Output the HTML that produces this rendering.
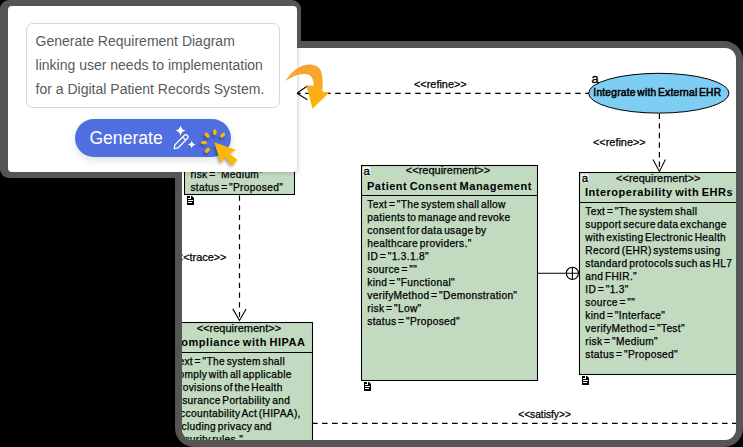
<!DOCTYPE html>
<html><head><meta charset="utf-8">
<style>
html,body{margin:0;padding:0;}
body{width:743px;height:447px;background:#000;position:relative;overflow:hidden;font-family:"Liberation Sans",sans-serif;}
.abs{position:absolute;}
#pshadow{left:0;top:0;width:300.5px;height:177.5px;background:#555;border-radius:9px;}
#panel{left:175px;top:41px;width:568px;height:406px;background:#555;border-radius:19px;}
#inner{left:182px;top:48px;width:554px;height:392px;background:#fff;border-radius:11px;overflow:hidden;}
#dwrap{left:-182px;top:-48px;width:743px;height:447px;}
#popup{left:8px;top:6px;width:289px;height:166px;background:#fff;border-radius:4px;}
#pshad2{left:8px;top:6px;width:289px;height:166px;border-radius:4px;box-shadow:1px 1px 4px rgba(0,0,0,0.18);}
#ta{left:25.9px;top:23px;width:254.4px;height:85.2px;border:1px solid #d6d6d6;border-radius:7px;box-sizing:border-box;}
#tatext{left:35.6px;top:28.7px;font-size:14px;line-height:24px;color:#5a5a5a;white-space:pre;}
#btn{left:75px;top:119px;width:156px;height:38px;background:#4f6fe0;border-radius:19px;box-shadow:0 3px 9px rgba(0,0,0,0.13);}
#btntext{left:89.4px;top:122px;font-size:17.6px;line-height:33px;color:#fff;white-space:pre;}
.dt{position:absolute;white-space:pre;color:#000;-webkit-text-stroke:0.25px #000;}
</style></head><body>
<div id="pshadow" class="abs"></div>
<div id="panel" class="abs"></div>
<div id="inner" class="abs"><div id="dwrap" class="abs">
<svg class="abs" style="left:0;top:0" width="743" height="447" viewBox="0 0 743 447"><rect x="184.50" y="30.50" width="110.00" height="164.00" fill="#c1dac0" stroke="#000" stroke-width="1.05"/><rect x="361.50" y="165.50" width="176.00" height="215.00" fill="#c1dac0" stroke="#000" stroke-width="1.05"/><line x1="361" y1="195.5" x2="538" y2="195.5" stroke="#000" stroke-width="1.05"/><rect x="579.50" y="172.50" width="180.00" height="202.00" fill="#c1dac0" stroke="#000" stroke-width="1.05"/><line x1="579" y1="202.5" x2="760" y2="202.5" stroke="#000" stroke-width="1.05"/><rect x="165.50" y="322.50" width="147.00" height="147.00" fill="#c1dac0" stroke="#000" stroke-width="1.05"/><line x1="165" y1="352.5" x2="313" y2="352.5" stroke="#000" stroke-width="1.05"/><path d="M187,196 h3 v3 h4 v6 h-7 z" fill="#000"/><path d="M191,196 h1 l2,2 v1 h-3 z" fill="#000"/><rect x="188" y="198" width="2" height="1" fill="#fff"/><rect x="188" y="200" width="5" height="1" fill="#fff"/><rect x="188" y="202" width="4" height="1" fill="#fff"/><rect x="363.1" y="167.1" width="7.3" height="8.7" rx="1" fill="#fff" opacity="0.9"/><path d="M364,382 h3 v3 h4 v6 h-7 z" fill="#000"/><path d="M368,382 h1 l2,2 v1 h-3 z" fill="#000"/><rect x="365" y="384" width="2" height="1" fill="#fff"/><rect x="365" y="386" width="5" height="1" fill="#fff"/><rect x="365" y="388" width="4" height="1" fill="#fff"/><rect x="581.3" y="174.3" width="7.2" height="8.5" rx="1" fill="#fff" opacity="0.9"/><path d="M582,376 h3 v3 h4 v6 h-7 z" fill="#000"/><path d="M586,376 h1 l2,2 v1 h-3 z" fill="#000"/><rect x="583" y="378" width="2" height="1" fill="#fff"/><rect x="583" y="380" width="5" height="1" fill="#fff"/><rect x="583" y="382" width="4" height="1" fill="#fff"/><line x1="239.5" y1="195.5" x2="239.5" y2="320" stroke="#000" stroke-width="1.2" fill="none" stroke-dasharray="5.2 4.5"/><polyline points="232.8,308.9 239.5,320.5 246.1,308.9" stroke="#000" stroke-width="1.1" fill="none"/><line x1="295.2" y1="93.4" x2="592" y2="93.4" stroke="#000" stroke-width="1.2" fill="none" stroke-dasharray="5.5 4.5"/><polyline points="307.4,86 296.8,93.3 307.4,99.7" stroke="#000" stroke-width="1.1" fill="none"/><line x1="659.4" y1="113.6" x2="659.4" y2="171" stroke="#000" stroke-width="1.2" fill="none" stroke-dasharray="5.4 4.2"/><polyline points="653,159.5 659.4,171.4 665.4,159.5" stroke="#000" stroke-width="1.1" fill="none"/><ellipse cx="658.8" cy="93.2" rx="70.2" ry="19.9" fill="#7ecdf3" stroke="#000" stroke-width="1"/><line x1="538" y1="273.3" x2="566.3" y2="273.3" stroke="#000" stroke-width="1.1"/><circle cx="572.4" cy="273.3" r="6.1" fill="none" stroke="#000" stroke-width="1.1"/><line x1="566.3" y1="273.3" x2="578.5" y2="273.3" stroke="#000" stroke-width="1.1"/><line x1="572.4" y1="267.2" x2="572.4" y2="279.4" stroke="#000" stroke-width="1.1"/><line x1="312" y1="423.4" x2="740" y2="423.4" stroke="#000" stroke-width="1.2" fill="none" stroke-dasharray="5.6 4.4"/></svg>
<div class="dt" style="left:190.40px;top:168.27px;font-size:10.2px;line-height:13px;letter-spacing:0.32px;word-spacing:-1.5px;">risk = "Medium"</div>
<div class="dt" style="left:190.40px;top:181.27px;font-size:10.2px;line-height:13px;letter-spacing:0.32px;word-spacing:-1.5px;">status = "Proposed"</div>
<div class="dt" style="left:363.60px;top:164.58px;font-size:11.3px;line-height:13px;-webkit-text-stroke:0.35px #000;">a</div>
<div class="dt" style="left:298.00px;width:300px;text-align:center;top:164.29px;font-size:11px;line-height:13px;">&lt;&lt;requirement&gt;&gt;</div>
<div class="dt" style="left:299.20px;width:300px;text-align:center;top:179.99px;font-size:11px;line-height:13px;font-weight:700;letter-spacing:0.5px;text-indent:0.5px;-webkit-text-stroke:0;word-spacing:-1.1px;">Patient Consent Management</div>
<div class="dt" style="left:367.30px;top:197.87px;font-size:10.2px;line-height:13px;letter-spacing:0.32px;word-spacing:-1.5px;">Text = "The system shall allow</div>
<div class="dt" style="left:367.30px;top:210.87px;font-size:10.2px;line-height:13px;letter-spacing:0.32px;word-spacing:-1.5px;">patients to manage and revoke</div>
<div class="dt" style="left:367.30px;top:223.87px;font-size:10.2px;line-height:13px;letter-spacing:0.32px;word-spacing:-1.5px;">consent for data usage by</div>
<div class="dt" style="left:367.30px;top:236.87px;font-size:10.2px;line-height:13px;letter-spacing:0.32px;word-spacing:-1.5px;">healthcare providers."</div>
<div class="dt" style="left:367.30px;top:249.87px;font-size:10.2px;line-height:13px;letter-spacing:0.32px;word-spacing:-1.5px;">ID = "1.3.1.8"</div>
<div class="dt" style="left:367.30px;top:262.87px;font-size:10.2px;line-height:13px;letter-spacing:0.32px;word-spacing:-1.5px;">source = ""</div>
<div class="dt" style="left:367.30px;top:275.87px;font-size:10.2px;line-height:13px;letter-spacing:0.32px;word-spacing:-1.5px;">kind = "Functional"</div>
<div class="dt" style="left:367.30px;top:288.87px;font-size:10.2px;line-height:13px;letter-spacing:0.32px;word-spacing:-1.5px;">verifyMethod = "Demonstration"</div>
<div class="dt" style="left:367.30px;top:301.87px;font-size:10.2px;line-height:13px;letter-spacing:0.32px;word-spacing:-1.5px;">risk = "Low"</div>
<div class="dt" style="left:367.30px;top:314.87px;font-size:10.2px;line-height:13px;letter-spacing:0.32px;word-spacing:-1.5px;">status = "Proposed"</div>
<div class="dt" style="left:581.80px;top:171.78px;font-size:11.3px;line-height:13px;-webkit-text-stroke:0.35px #000;">a</div>
<div class="dt" style="left:508.30px;width:300px;text-align:center;top:171.99px;font-size:11px;line-height:13px;">&lt;&lt;requirement&gt;&gt;</div>
<div class="dt" style="left:508.75px;width:300px;text-align:center;top:185.69px;font-size:11px;line-height:13px;font-weight:700;letter-spacing:0.52px;text-indent:0.52px;-webkit-text-stroke:0;word-spacing:-1.1px;">Interoperability with EHRs</div>
<div class="dt" style="left:585.30px;top:204.87px;font-size:10.2px;line-height:13px;letter-spacing:0.32px;word-spacing:-1.5px;">Text = "The system shall</div>
<div class="dt" style="left:585.30px;top:217.87px;font-size:10.2px;line-height:13px;letter-spacing:0.32px;word-spacing:-1.5px;">support secure data exchange</div>
<div class="dt" style="left:585.30px;top:230.87px;font-size:10.2px;line-height:13px;letter-spacing:0.32px;word-spacing:-1.5px;">with existing Electronic Health</div>
<div class="dt" style="left:585.30px;top:243.87px;font-size:10.2px;line-height:13px;letter-spacing:0.32px;word-spacing:-1.5px;">Record (EHR) systems using</div>
<div class="dt" style="left:585.30px;top:256.87px;font-size:10.2px;line-height:13px;letter-spacing:0.32px;word-spacing:-1.5px;">standard protocols such as HL7</div>
<div class="dt" style="left:585.30px;top:269.87px;font-size:10.2px;line-height:13px;letter-spacing:0.32px;word-spacing:-1.5px;">and FHIR."</div>
<div class="dt" style="left:585.30px;top:282.87px;font-size:10.2px;line-height:13px;letter-spacing:0.32px;word-spacing:-1.5px;">ID = "1.3"</div>
<div class="dt" style="left:585.30px;top:295.87px;font-size:10.2px;line-height:13px;letter-spacing:0.32px;word-spacing:-1.5px;">source = ""</div>
<div class="dt" style="left:585.30px;top:308.87px;font-size:10.2px;line-height:13px;letter-spacing:0.32px;word-spacing:-1.5px;">kind = "Interface"</div>
<div class="dt" style="left:585.30px;top:321.87px;font-size:10.2px;line-height:13px;letter-spacing:0.32px;word-spacing:-1.5px;">verifyMethod = "Test"</div>
<div class="dt" style="left:585.30px;top:334.87px;font-size:10.2px;line-height:13px;letter-spacing:0.32px;word-spacing:-1.5px;">risk = "Medium"</div>
<div class="dt" style="left:585.30px;top:347.87px;font-size:10.2px;line-height:13px;letter-spacing:0.32px;word-spacing:-1.5px;">status = "Proposed"</div>
<div class="dt" style="left:88.90px;width:300px;text-align:center;top:321.69px;font-size:11px;line-height:13px;">&lt;&lt;requirement&gt;&gt;</div>
<div class="dt" style="left:88.90px;width:300px;text-align:center;top:335.99px;font-size:11px;line-height:13px;font-weight:700;letter-spacing:0.52px;text-indent:0.52px;-webkit-text-stroke:0;word-spacing:-1.1px;">Compliance with HIPAA</div>
<div class="dt" style="left:173.00px;top:354.87px;font-size:10.2px;line-height:13px;letter-spacing:0.32px;word-spacing:-1.5px;">Text = "The system shall</div>
<div class="dt" style="left:173.00px;top:367.87px;font-size:10.2px;line-height:13px;letter-spacing:0.32px;word-spacing:-1.5px;">comply with all applicable</div>
<div class="dt" style="left:173.00px;top:380.87px;font-size:10.2px;line-height:13px;letter-spacing:0.32px;word-spacing:-1.5px;">provisions of the Health</div>
<div class="dt" style="left:173.00px;top:393.87px;font-size:10.2px;line-height:13px;letter-spacing:0.32px;word-spacing:-1.5px;">Insurance Portability and</div>
<div class="dt" style="left:173.00px;top:406.87px;font-size:10.2px;line-height:13px;letter-spacing:0.32px;word-spacing:-1.5px;">Accountability Act (HIPAA),</div>
<div class="dt" style="left:173.00px;top:419.87px;font-size:10.2px;line-height:13px;letter-spacing:0.32px;word-spacing:-1.5px;">including privacy and</div>
<div class="dt" style="left:173.00px;top:432.87px;font-size:10.2px;line-height:13px;letter-spacing:0.32px;word-spacing:-1.5px;">security rules."</div>
<div class="dt" style="left:176.80px;top:251.12px;font-size:10.9px;line-height:13px;">&lt;&lt;trace&gt;&gt;</div>
<div class="dt" style="left:414.00px;top:77.52px;font-size:10.9px;line-height:13px;">&lt;&lt;refine&gt;&gt;</div>
<div class="dt" style="left:593.00px;top:136.02px;font-size:10.9px;line-height:13px;">&lt;&lt;refine&gt;&gt;</div>
<div class="dt" style="left:591.60px;top:71.56px;font-size:12.8px;line-height:13px;-webkit-text-stroke:0.35px #000;">a</div>
<div class="dt" style="left:593.30px;top:86.07px;font-size:10.2px;line-height:13px;letter-spacing:0.25px;-webkit-text-stroke:0.5px #000;word-spacing:-1.5px;">Integrate with External EHR</div>
<div class="dt" style="left:518.20px;top:408.27px;font-size:10.2px;line-height:13px;">&lt;&lt;satisfy&gt;&gt;</div>
<div id="pshad2" class="abs"></div></div></div>
<div id="popup" class="abs"></div>
<div id="ta" class="abs"></div>
<div id="tatext" class="abs">Generate Requirement Diagram
linking user needs to implementation
for a Digital Patient Records System.</div>
<div id="btn" class="abs"></div>
<div id="btntext" class="abs">Generate</div>
<svg class="abs" style="left:0;top:0" width="743" height="447" viewBox="0 0 743 447">
<path d="M180.5,125.2 Q181.2,129.8 185.7,130.6 Q181.2,131.4 180.5,136.1 Q179.8,131.4 175.2,130.6 Q179.8,129.8 180.5,125.2 Z" fill="#fff"/>
<path d="M191.7,140.4 Q192.3,143.9 195.7,144.5 Q192.3,145.1 191.7,148.6 Q191.1,145.1 187.7,144.5 Q191.1,143.9 191.7,140.4 Z" fill="#fff"/>
<g transform="translate(180.85,141.95) rotate(-45)">
<path d="M-9.3,0 L-6.3,-2.2 L7,-2.2 A2.2,2.2 0 0 1 7,2.2 L-6.3,2.2 Z" fill="none" stroke="#fff" stroke-width="1.3" stroke-linejoin="round"/>
<line x1="4.8" y1="-2.2" x2="4.8" y2="2.2" stroke="#fff" stroke-width="1.2"/>
</g>
</svg>
<svg class="abs" style="left:0;top:0" width="743" height="447" viewBox="0 0 743 447">
<defs><filter id="sh" x="-50%" y="-50%" width="200%" height="200%"><feGaussianBlur stdDeviation="1.6"/></filter></defs>
<g opacity="0.35" filter="url(#sh)" transform="translate(-1.5,2.5)">
<g stroke="#000" stroke-width="3.4" stroke-linecap="round"><line x1="214.80" y1="131.00" x2="214.80" y2="133.40"/><line x1="206.15" y1="134.25" x2="207.85" y2="135.95"/><line x1="202.80" y1="142.60" x2="205.20" y2="142.60"/><line x1="206.45" y1="151.25" x2="208.15" y2="149.55"/><line x1="221.75" y1="135.95" x2="223.45" y2="134.25"/></g>
<path d="M214.8,142.9 L235.3,150.1 L228.4,153.3 L237.3,160.1 L232,164.9 L225,156.4 L221.2,162.8 Z" fill="#000"/>
</g>
<g stroke="#ffb800" stroke-width="3.4" stroke-linecap="round"><line x1="214.80" y1="131.00" x2="214.80" y2="133.40"/><line x1="206.15" y1="134.25" x2="207.85" y2="135.95"/><line x1="202.80" y1="142.60" x2="205.20" y2="142.60"/><line x1="206.45" y1="151.25" x2="208.15" y2="149.55"/><line x1="221.75" y1="135.95" x2="223.45" y2="134.25"/></g>
<path d="M214.8,142.9 L235.3,150.1 L228.4,153.3 L237.3,160.1 L232,164.9 L225,156.4 L221.2,162.8 Z" fill="#ffb800" stroke="#ffb800" stroke-width="0.8" stroke-linejoin="round"/>
</svg>
<svg class="abs" style="left:0;top:0" width="743" height="447" viewBox="0 0 743 447">
<defs><linearGradient id="og" x1="0" y1="64" x2="0" y2="109" gradientUnits="userSpaceOnUse"><stop offset="0" stop-color="#f7a13a"/><stop offset="1" stop-color="#ffb500"/></linearGradient></defs>
<path d="M285,81.3 C289,75 296,67.5 304,65.2 C312,63.5 319,65.5 321.3,72 C323,77 322.7,85 322.6,91.9 L329.8,91.9 L312.5,108.7 L306.3,85.2 L313.6,85.8 C313.8,80 312,75.5 307.5,74.2 C300,73 292,76.5 285,81.3 Z" fill="url(#og)"/>
</svg>

</body></html>
